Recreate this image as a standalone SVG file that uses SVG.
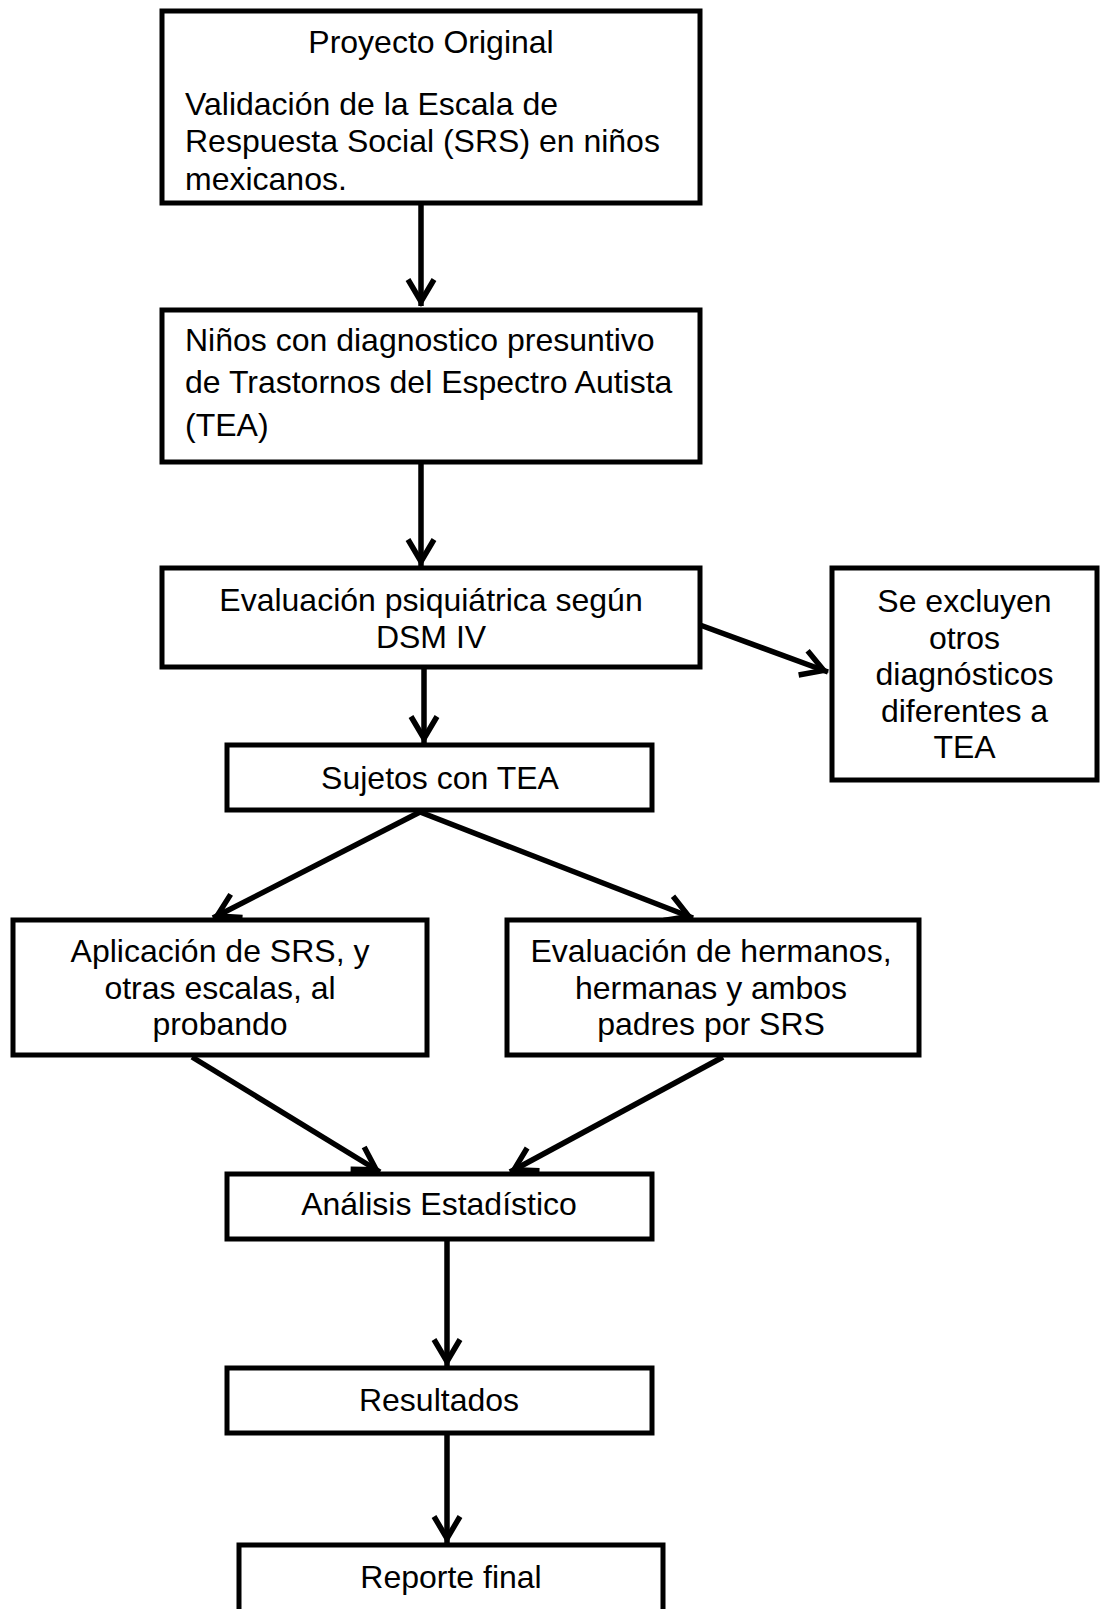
<svg xmlns="http://www.w3.org/2000/svg" width="1104" height="1609" viewBox="0 0 1104 1609">
<style>
.box{fill:#fff;stroke:#000;stroke-width:5}
.t{font-family:"Liberation Sans",Arial,sans-serif;font-size:32px;fill:#000}
.c{text-anchor:middle}
.conn line{stroke:#000;stroke-width:5.5;marker-end:url(#arrow)}
</style>
<defs>
<marker id="arrow" markerUnits="userSpaceOnUse" viewBox="-26 -17 33 34" markerWidth="33" markerHeight="34" refX="4.5" refY="0" orient="auto" overflow="visible">
<path d="M-22,-13 L0,0 L-22,13" fill="none" stroke="#000" stroke-width="5.5" stroke-linejoin="miter"/>
</marker>
</defs>
<rect width="1104" height="1609" fill="#fff"/>
<g class="conn" id="connectors">
<line x1="421" y1="203" x2="421" y2="306"/>
<line x1="421" y1="462" x2="421" y2="566"/>
<line x1="700" y1="625" x2="828" y2="672"/>
<line x1="424" y1="667" x2="424" y2="743"/>
<line x1="420" y1="812" x2="213" y2="918"/>
<line x1="420" y1="812" x2="693" y2="918"/>
<line x1="192" y1="1057" x2="380" y2="1172"/>
<line x1="723" y1="1057" x2="510" y2="1172"/>
<line x1="447" y1="1240" x2="447" y2="1366"/>
<line x1="447" y1="1434" x2="447" y2="1543"/>
</g>
<g id="proyecto">
<rect class="box" x="162" y="11" width="538" height="192"/>
<text class="t c" x="431" y="53">Proyecto Original</text>
<text class="t" x="185" y="115">Validación de la Escala de</text>
<text class="t" x="185" y="152">Respuesta Social (SRS) en niños</text>
<text class="t" x="185" y="190">mexicanos.</text>
</g>
<g id="ninos">
<rect class="box" x="162" y="310" width="538" height="152"/>
<text class="t" x="185" y="351">Niños con diagnostico presuntivo</text>
<text class="t" x="185" y="393">de Trastornos del Espectro Autista</text>
<text class="t" x="185" y="436">(TEA)</text>
</g>
<g id="evaluacion">
<rect class="box" x="162" y="568" width="538" height="99"/>
<text class="t c" x="431" y="611">Evaluación psiquiátrica según</text>
<text class="t c" x="431" y="648">DSM IV</text>
</g>
<g id="excluyen">
<rect class="box" x="832" y="568" width="265" height="212"/>
<text class="t c" x="964.5" y="612">Se excluyen</text>
<text class="t c" x="964.5" y="648.5">otros</text>
<text class="t c" x="964.5" y="685">diagnósticos</text>
<text class="t c" x="964.5" y="721.5">diferentes a</text>
<text class="t c" x="964.5" y="758">TEA</text>
</g>
<g id="sujetos">
<rect class="box" x="227" y="745" width="425" height="65"/>
<text class="t c" x="440" y="789">Sujetos con TEA</text>
</g>
<g id="aplicacion">
<rect class="box" x="13" y="920" width="414" height="135"/>
<text class="t c" x="220" y="962">Aplicación de SRS, y</text>
<text class="t c" x="220" y="999">otras escalas, al</text>
<text class="t c" x="220" y="1035">probando</text>
</g>
<g id="hermanos">
<rect class="box" x="507" y="920" width="412" height="135"/>
<text class="t c" x="711" y="962">Evaluación de hermanos,</text>
<text class="t c" x="711" y="999">hermanas y ambos</text>
<text class="t c" x="711" y="1035">padres por SRS</text>
</g>
<g id="analisis">
<rect class="box" x="227" y="1174" width="425" height="65"/>
<text class="t c" x="439" y="1215">Análisis Estadístico</text>
</g>
<g id="resultados">
<rect class="box" x="227" y="1368" width="425" height="65"/>
<text class="t c" x="439" y="1411">Resultados</text>
</g>
<g id="reporte">
<rect class="box" x="239" y="1545" width="424" height="70"/>
<text class="t c" x="451" y="1588">Reporte final</text>
</g>
</svg>
